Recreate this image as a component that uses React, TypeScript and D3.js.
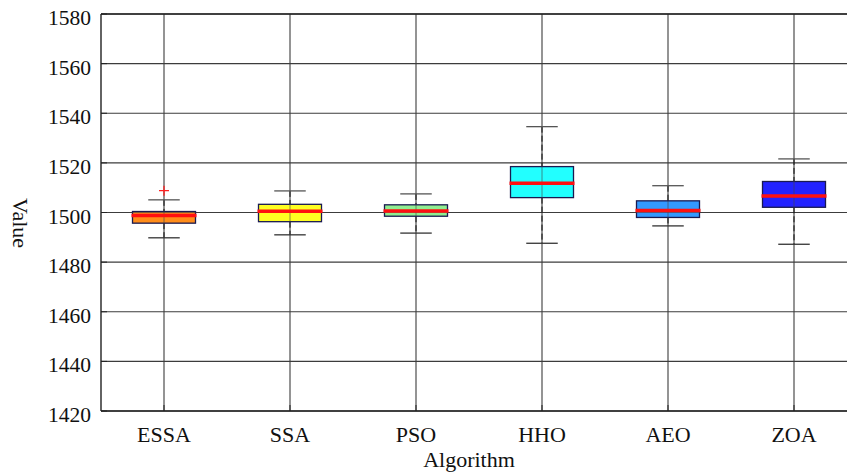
import React, { useEffect, useRef } from 'react'
import * as d3 from 'd3'

const algorithms = ['ESSA', 'SSA', 'PSO', 'HHO', 'AEO', 'ZOA']
const lowerWhisker = [1489.8, 1491.0, 1491.7, 1487.6, 1494.6, 1487.2]
const q1 = [1495.7, 1496.3, 1498.5, 1506.0, 1498.0, 1502.1]
const median = [1498.8, 1500.5, 1500.6, 1511.8, 1500.8, 1506.7]
const q3 = [1500.4, 1503.3, 1503.1, 1518.5, 1504.7, 1512.5]
const upperWhisker = [1505.1, 1508.7, 1507.5, 1534.6, 1510.8, 1521.6]
const outliers = [[1508.8], [], [], [], [], []]
const boxColors = ['#ff8c1a', '#ffff22', '#90ee90', '#22ffff', '#3399ff', '#2222ff']
const yTicks = [1420, 1440, 1460, 1480, 1500, 1520, 1540, 1560, 1580]

function drawBoxes(el: SVGSVGElement) {
    const svg = d3.select(el)
    svg.selectAll('*').remove()

    const left = 101, top = 14, bottom = 411
    const step = 126
    const x = d3.scalePoint<string>()
        .domain(algorithms)
        .range([left + step / 2, left + step / 2 + step * 5])
    const right = left + step * 6
    const y = d3.scaleLinear().domain([1420, 1580]).range([bottom, top])
    const font = '"Liberation Serif", "Times New Roman", serif'

    // grid
    const grid = svg.append('g').attr('stroke', '#3c3c3c').attr('stroke-width', 1.1)
    yTicks.forEach(t => {
        grid.append('line').attr('x1', left).attr('x2', right)
            .attr('y1', y(t)).attr('y2', y(t))
    })
    algorithms.forEach(a => {
        grid.append('line').attr('x1', x(a)!).attr('x2', x(a)!)
            .attr('y1', top).attr('y2', bottom)
    })

    const boxW = step / 2, capW = step / 4
    const g = svg.append('g')
    algorithms.forEach((a, i) => {
        const cx = x(a)!
        // whiskers
        g.append('line').attr('x1', cx).attr('x2', cx)
            .attr('y1', y(upperWhisker[i])).attr('y2', y(q3[i]))
            .attr('stroke', '#111').attr('stroke-dasharray', '6,3')
        g.append('line').attr('x1', cx).attr('x2', cx)
            .attr('y1', y(q1[i])).attr('y2', y(lowerWhisker[i]))
            .attr('stroke', '#111').attr('stroke-dasharray', '6,3')
        g.append('line').attr('x1', cx - capW / 2).attr('x2', cx + capW / 2)
            .attr('y1', y(upperWhisker[i])).attr('y2', y(upperWhisker[i]))
            .attr('stroke', '#555').attr('stroke-width', 1.3)
        g.append('line').attr('x1', cx - capW / 2).attr('x2', cx + capW / 2)
            .attr('y1', y(lowerWhisker[i])).attr('y2', y(lowerWhisker[i]))
            .attr('stroke', '#333').attr('stroke-width', 1.3)
        // box
        g.append('rect')
            .attr('x', cx - boxW / 2).attr('width', boxW)
            .attr('y', y(q3[i])).attr('height', y(q1[i]) - y(q3[i]))
            .attr('fill', boxColors[i]).attr('stroke', '#1a1a50').attr('stroke-width', 1.3)
        // grid line through box
        g.append('line').attr('x1', cx).attr('x2', cx)
            .attr('y1', y(q3[i])).attr('y2', y(q1[i]))
            .attr('stroke', '#444').attr('stroke-opacity', 0.6)
        if (q1[i] < 1500 && q3[i] > 1500) {
            g.append('line').attr('x1', cx - boxW / 2).attr('x2', cx + boxW / 2)
                .attr('y1', y(1500)).attr('y2', y(1500))
                .attr('stroke', '#444').attr('stroke-opacity', 0.6)
        }
        // median
        g.append('line').attr('x1', cx - boxW / 2 - 1).attr('x2', cx + boxW / 2 + 1)
            .attr('y1', y(median[i])).attr('y2', y(median[i]))
            .attr('stroke', '#ff1010').attr('stroke-width', 3.5)
        // outliers
        outliers[i].forEach(v => {
            g.append('path')
                .attr('d', `M${cx - 5},${y(v)}h10M${cx},${y(v) - 5}v10`)
                .attr('stroke', '#ff2020').attr('stroke-width', 1.3)
        })
    })

    // frame
    svg.append('line').attr('x1', left).attr('x2', right).attr('y1', top).attr('y2', top)
        .attr('stroke', '#222').attr('stroke-width', 1.4)
    svg.append('line').attr('x1', left).attr('x2', right).attr('y1', bottom).attr('y2', bottom)
        .attr('stroke', '#222').attr('stroke-width', 1.4)
    svg.append('line').attr('x1', left).attr('x2', left).attr('y1', top).attr('y2', bottom)
        .attr('stroke', '#222').attr('stroke-width', 1.4)

    // y ticks
    yTicks.forEach(t => {
        svg.append('line').attr('x1', left).attr('x2', left + 6)
            .attr('y1', y(t)).attr('y2', y(t)).attr('stroke', '#222')
        svg.append('text').attr('x', left - 10).attr('y', y(t) + 11)
            .attr('text-anchor', 'end')
            .attr('font-family', font).attr('font-size', 21.5).attr('fill', '#111')
            .text(t)
    })
    algorithms.forEach(a => {
        svg.append('line').attr('x1', x(a)!).attr('x2', x(a)!)
            .attr('y1', bottom).attr('y2', bottom - 6).attr('stroke', '#222')
        svg.append('text').attr('x', x(a)!).attr('y', 442)
            .attr('text-anchor', 'middle')
            .attr('font-family', font).attr('font-size', 22).attr('fill', '#111')
            .text(a)
    })

    svg.append('text').attr('x', 469).attr('y', 467)
        .attr('text-anchor', 'middle')
        .attr('font-family', font).attr('font-size', 22).attr('fill', '#111')
        .text('Algorithm')
    svg.append('text')
        .attr('transform', `translate(13,223) rotate(90)`)
        .attr('text-anchor', 'middle')
        .attr('font-family', font).attr('font-size', 22).attr('fill', '#111')
        .text('Value')
}

const App = () => {
    const ref = useRef<SVGSVGElement>(null)
    useEffect(() => {
        if (ref.current) drawBoxes(ref.current)
    })
    return (
        <svg ref={ref} width={847} height={475}
            style={{ position: 'absolute', left: 0, top: 0, background: '#fff' }} />
    )
}

export default App
